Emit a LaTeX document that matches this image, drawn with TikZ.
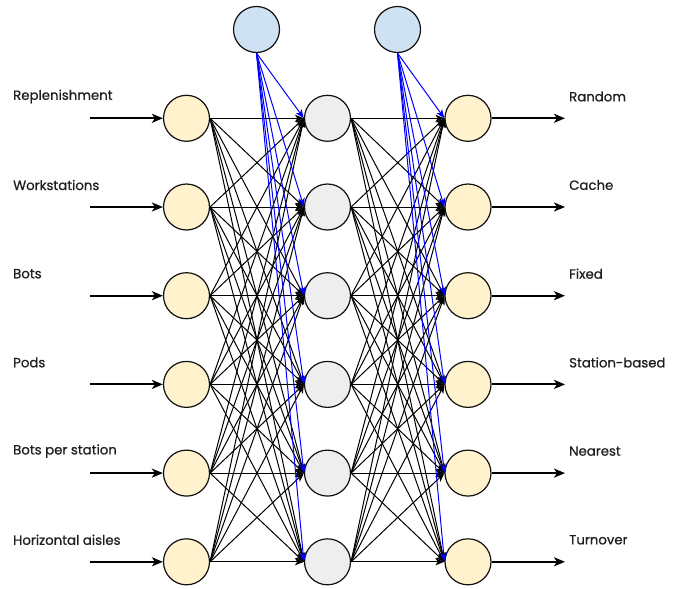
\documentclass[tikz,border=0pt]{standalone}
\usepackage{fontspec}
\setmainfont{Poppins}
\newfontfamily\lblfont{Poppins}[UprightFeatures={FakeBold=0.8}]
\usetikzlibrary{arrows.meta}
\definecolor{yel}{HTML}{FFF2CC}
\definecolor{gry}{HTML}{EEEEEE}
\definecolor{blu}{HTML}{CFE2F3}
\definecolor{edge}{HTML}{111111}
\tikzset{
  neuron/.style={circle, draw=edge, line width=1.2pt, minimum size=46pt, inner sep=0pt},
  inneur/.style={neuron, fill=yel},
  hidneur/.style={neuron, fill=gry},
  biasneur/.style={neuron, fill=blu},
  conn/.style={draw=black, line width=1pt, -{Stealth[length=9pt,width=7pt,inset=2.5pt]}},
  biasconn/.style={draw=blue, line width=1pt, -{Stealth[length=9pt,width=7pt,inset=2.5pt]}},
  ioarrow/.style={draw=black, line width=2pt, -{Stealth[length=11pt,width=9pt,inset=3pt]}},
  lbl/.style={anchor=west, font=\lblfont\fontsize{13.3}{15}\selectfont, inner sep=0pt, text=black!88}
}
\begin{document}
\begin{tikzpicture}[x=1pt,y=-1pt]
\useasboundingbox (0,0) rectangle (683,589);
\foreach \i/\y in {1/118.3,2/207,3/295.7,4/384.4,5/473.1,6/561.8}{
  \node[inneur] (a\i) at (186.5,\y) {};
  \node[hidneur] (h\i) at (327.5,\y) {};
  \node[inneur] (o\i) at (468,\y) {};
  \coordinate (s\i) at (90,\y);
  \coordinate (e\i) at (565,\y);
}
\node[biasneur] (b1) at (256.5,29.5) {};
\node[biasneur] (b2) at (397.5,29.5) {};
\foreach \i in {1,...,6}{
  \foreach \j in {1,...,6}{
    \draw[conn] (a\i.east) -- (h\j.west);
    \draw[conn] (h\i.east) -- (o\j.west);
  }
}
\foreach \j in {1,...,6}{
  \draw[biasconn] (b1.south) -- (h\j.west);
  \draw[biasconn] (b2.south) -- (o\j.west);
  \draw[ioarrow] (s\j) -- (a\j.west);
  \draw[ioarrow] (o\j.east) -- (e\j);
}
\node[lbl] (l1) at (13,96.5) {Replenishment};
\node[lbl] (l2) at (13,185) {Workstations};
\node[lbl] (l3) at (13,273.7) {Bots};
\node[lbl] (l4) at (13,362.4) {Pods};
\node[lbl] (l5) at (13,451.1) {Bots per station};
\node[lbl] (l6) at (13,539.8) {Horizontal aisles};
\node[lbl] (r1) at (569,96.5) {Random};
\node[lbl] (r2) at (569,185) {Cache};
\node[lbl] (r3) at (569,273.7) {Fixed};
\node[lbl] (r4) at (569,362.4) {Station-based};
\node[lbl] (r5) at (569,451.1) {Nearest};
\node[lbl] (r6) at (569,539.8) {Turnover};
\end{tikzpicture}
\end{document}
